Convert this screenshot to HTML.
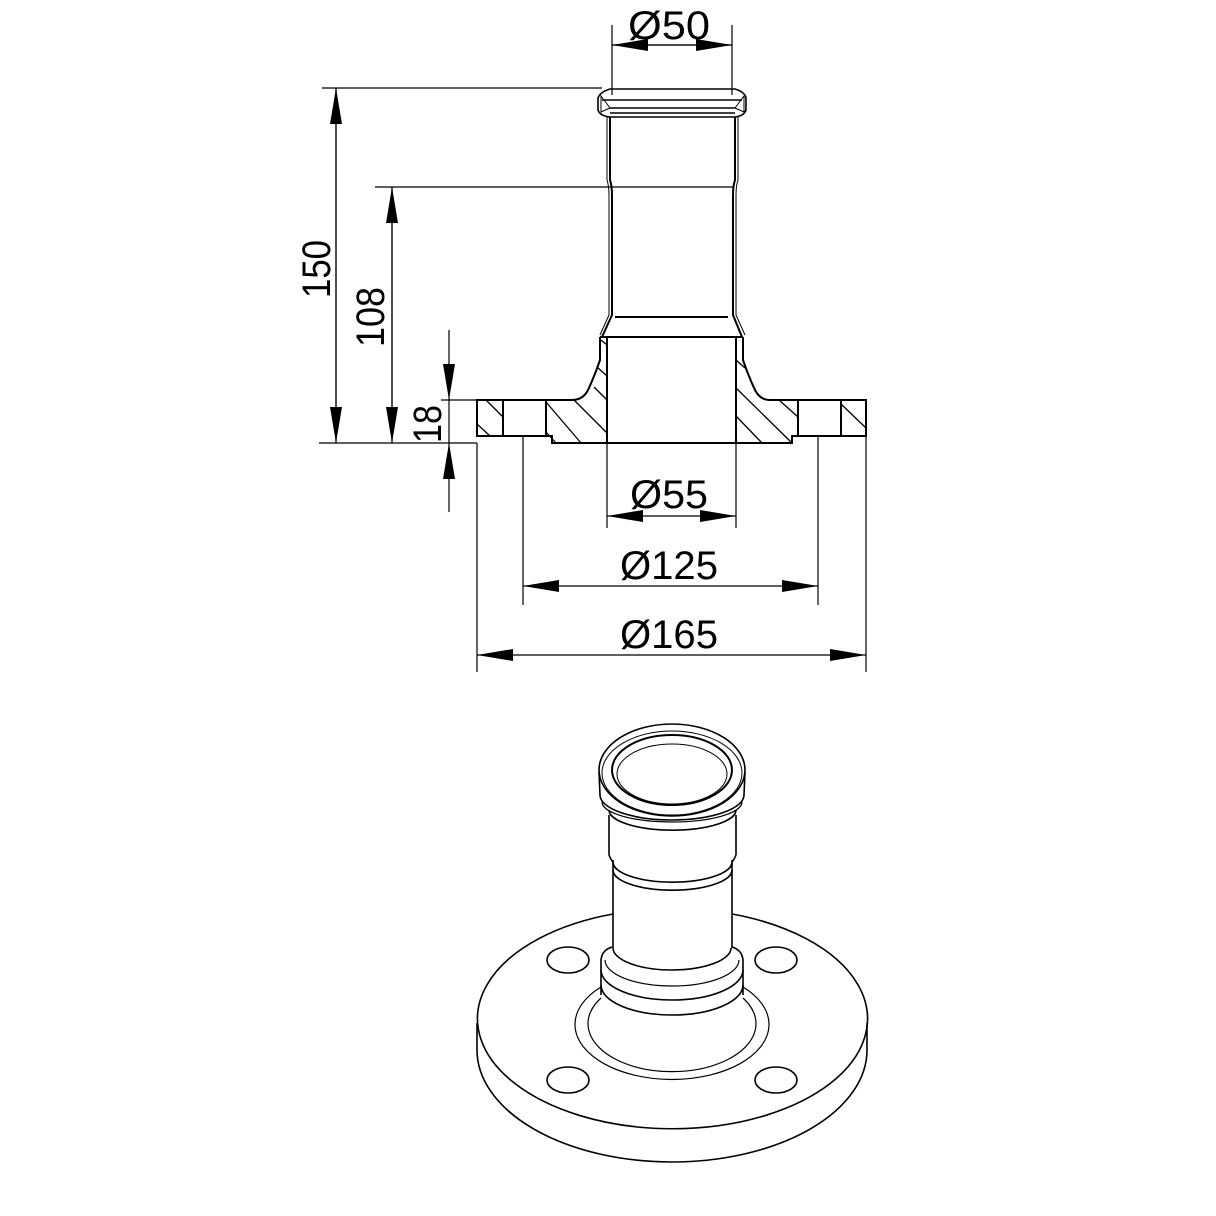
<!DOCTYPE html>
<html><head><meta charset="utf-8"><style>html,body{margin:0;padding:0;background:#fff}svg{display:block}</style></head><body>
<svg width="1216" height="1216" viewBox="0 0 1216 1216" xmlns="http://www.w3.org/2000/svg">
<defs>
<marker id="a" viewBox="0 0 36 12" refX="36" refY="6" markerWidth="36" markerHeight="12" markerUnits="userSpaceOnUse" orient="auto"><path d="M0,0 L36,6 L0,12 Z" fill="#000"/></marker>
</defs>
<g stroke="#000" fill="none" stroke-width="1.2">
<line x1="322" y1="88" x2="602" y2="88"/>
<line x1="375" y1="187" x2="612" y2="187"/>
<line x1="319" y1="443" x2="477" y2="443"/>
<line x1="441" y1="400" x2="477" y2="400"/>
<line x1="612" y1="25" x2="612" y2="95"/>
<line x1="732" y1="25" x2="732" y2="95"/>
<line x1="607" y1="443" x2="607" y2="528"/>
<line x1="736" y1="443" x2="736" y2="528"/>
<line x1="523" y1="436" x2="523" y2="605"/>
<line x1="818" y1="436" x2="818" y2="605"/>
<line x1="477" y1="443" x2="477" y2="672"/>
<line x1="866" y1="436" x2="866" y2="672"/>
<line x1="336" y1="443" x2="336" y2="88" marker-end="url(#a)"/>
<line x1="336" y1="88" x2="336" y2="443" marker-end="url(#a)"/>
<line x1="392" y1="443" x2="392" y2="187" marker-end="url(#a)"/>
<line x1="392" y1="187" x2="392" y2="443" marker-end="url(#a)"/>
<line x1="449" y1="330" x2="449" y2="400" marker-end="url(#a)"/>
<line x1="449" y1="512" x2="449" y2="443" marker-end="url(#a)"/>
<line x1="449" y1="400" x2="449" y2="443"/>
<line x1="612" y1="45" x2="732" y2="45"/>
<line x1="672" y1="45" x2="612" y2="45" marker-end="url(#a)"/>
<line x1="672" y1="45" x2="732" y2="45" marker-end="url(#a)"/>
<line x1="672" y1="516" x2="607" y2="516" marker-end="url(#a)"/>
<line x1="672" y1="516" x2="736" y2="516" marker-end="url(#a)"/>
<line x1="670" y1="586" x2="523" y2="586" marker-end="url(#a)"/>
<line x1="670" y1="586" x2="818" y2="586" marker-end="url(#a)"/>
<line x1="670" y1="655" x2="477" y2="655" marker-end="url(#a)"/>
<line x1="670" y1="655" x2="866" y2="655" marker-end="url(#a)"/>
</g>
<g font-family="'Liberation Sans Narrow','Liberation Sans',sans-serif" font-size="40" fill="#000">
<text x="628" y="39" textLength="82" lengthAdjust="spacingAndGlyphs">Ø50</text>
<text x="630" y="508" textLength="78" lengthAdjust="spacingAndGlyphs">Ø55</text>
<text x="620" y="579" textLength="98" lengthAdjust="spacingAndGlyphs">Ø125</text>
<text x="620" y="648" textLength="98" lengthAdjust="spacingAndGlyphs">Ø165</text>
<text transform="translate(330,298) rotate(-90)" textLength="58" lengthAdjust="spacingAndGlyphs">150</text>
<text transform="translate(384,347) rotate(-90)" textLength="60" lengthAdjust="spacingAndGlyphs">108</text>
<text transform="translate(441,443) rotate(-90)" textLength="38" lengthAdjust="spacingAndGlyphs">18</text>
</g>
<g stroke="#000" fill="none" stroke-width="2">
<path d="M610,89 L735,89 Q745,92 746,98 L746,110 Q744,116 735,117 L610,117 Q600,116 598,110 L598,98 Q600,92 610,89 Z" stroke-width="1.6"/>
<path d="M602,100 L742,100 M610,108 L735,108 M610,113 L735,113" stroke-width="1.4"/>
<path d="M601,96 L610,108 L601,112 Z M744,96 L735,108 L744,112 Z" stroke-width="1"/>
<path d="M610,117 L610,180 Q612,186 612,195 L612,315 L602,337"/>
<path d="M735,117 L735,180 Q733,186 733,195 L733,315 L742,337"/>
<path d="M607,117 L607,180 Q609,186 609,195 L609,315 L600,335" stroke-width="1"/>
<path d="M738,117 L738,180 Q736,186 736,195 L736,315 L745,335" stroke-width="1"/>
<line x1="612" y1="187" x2="733" y2="187" stroke-width="1.2"/>
<line x1="615" y1="317" x2="728" y2="317"/>
<line x1="600" y1="337" x2="743" y2="337"/>
<line x1="607" y1="337" x2="607" y2="443"/>
<line x1="736" y1="337" x2="736" y2="443"/>
<path d="M600,337 L600,360 Q595,375 588,390 Q583,400 572,400 L477,400 L477,436 L552,436 L552,443 L792,443 L792,436 L866,436 L866,400 L770,400 Q760,400 755,390 Q748,375 743,360 L743,337"/>
<path d="M503,400 L503,436 M546,400 L546,436 M798,400 L798,436 M841,400 L841,436"/>
</g>
<g stroke="#000" stroke-width="1.3">
<line x1="486" y1="400" x2="503" y2="417"/><line x1="477" y1="424" x2="490" y2="436"/>
<line x1="546" y1="402" x2="581" y2="443"/><line x1="574" y1="400" x2="607" y2="433"/><line x1="594" y1="387" x2="607" y2="400"/><line x1="597" y1="367" x2="607" y2="376"/><line x1="601" y1="340" x2="607" y2="345"/><line x1="546" y1="432" x2="556" y2="443"/>
<line x1="736" y1="360" x2="745" y2="368"/><line x1="736" y1="388" x2="792" y2="443"/><line x1="736" y1="416" x2="762" y2="443"/><line x1="779" y1="400" x2="798" y2="417"/>
<line x1="841" y1="404" x2="866" y2="428"/>
</g>
<g stroke="#000" fill="none" stroke-width="1.6">
<path d="M613,914 A195,110 0 1,0 732,914"/>
<path d="M477,1023 L477,1050 A195,112 0 0,0 867,1050 L867,1023"/>
<ellipse cx="568" cy="960" rx="21" ry="13"/><ellipse cx="776" cy="960" rx="21" ry="13"/>
<ellipse cx="568" cy="1080" rx="21" ry="13"/><ellipse cx="776" cy="1080" rx="21" ry="13"/>
<path d="M601,987 A97,55 0 1,0 743,987" stroke-width="1.2"/>
<path d="M601,998 A84,48 0 1,0 743,998" stroke-width="1.2"/>
<path d="M601,995 L601,960 Q602,950 612,947 M743,995 L743,960 Q742,950 732,947"/>
<path d="M601,970 A71,30 0 0,0 743,970" />
<path d="M601,985 A71,30 0 0,0 743,985" />
<path d="M605,960 A67,26 0 0,0 739,960" stroke-width="1.2"/>
<path d="M613,948 A59,22 0 0,0 731,948"/>
<line x1="613" y1="948" x2="613" y2="860"/><line x1="732" y1="948" x2="732" y2="860"/>
<path d="M613,862 A59,20 0 0,0 732,862"/>
<path d="M613,870 A59,20 0 0,0 732,870"/>
<path d="M609,855 L609,815 M736,855 L736,815"/>
<path d="M609,855 Q611,860 613,862 M736,855 Q734,860 732,862"/>
<path d="M609,810 A63,20 0 0,0 736,810"/>
<ellipse cx="672" cy="770" rx="73" ry="46"/>
<ellipse cx="672" cy="773" rx="70" ry="42" stroke-width="1"/>
<ellipse cx="672" cy="770" rx="60" ry="35" stroke-width="2"/>
<ellipse cx="672" cy="774" rx="55" ry="30" stroke-width="1"/>
<path d="M599,772 L600,795 A72,25 0 0,0 744,795 L745,772"/>
<path d="M602,802 A70,20 0 0,0 742,802" stroke-width="1.2"/>
</g>
</svg>
</body></html>
